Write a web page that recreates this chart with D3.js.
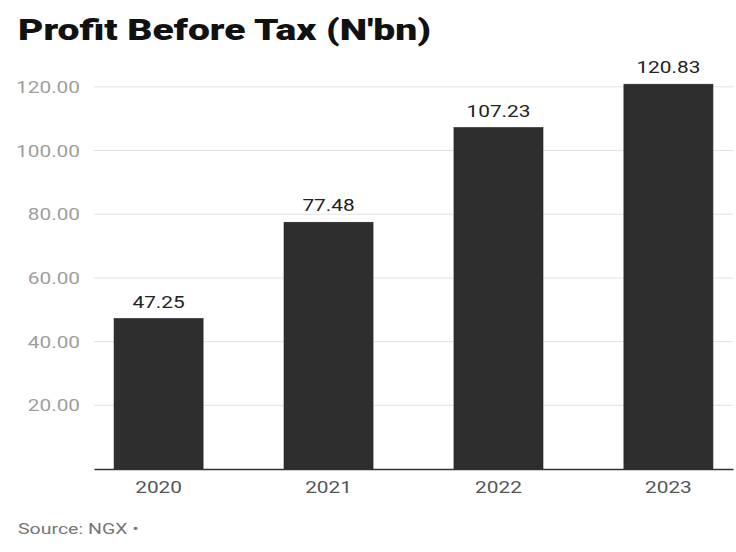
<!DOCTYPE html>
<html>
<head>
<meta charset="utf-8">
<script src="https://cdn.jsdelivr.net/npm/d3@7"></script>
<style>
  body { margin: 0; background: #fff; }
  text { font-family: Roboto, "Liberation Sans", sans-serif; }
</style>
</head>
<body>
<div id="vis"></div>
<script>
var width = 736;
var height = 552;

var years = ["2020", "2021", "2022", "2023"];
var profit = [47.25, 77.48, 107.23, 120.83];
var yTicks = [20, 40, 60, 80, 100, 120];

var padding = {top: 55, left: 94, right: 3, bottom: 83};
var stretchX = 1.3; // the source image text is wide

function stretch(sel){
    sel.each(function(){
        var l = this.getComputedTextLength();
        d3.select(this)
            .attr("textLength", l * stretchX)
            .attr("lengthAdjust", "spacingAndGlyphs");
    });
}

var svg = d3.select('#vis').append('svg')
    .attr("width", width)
    .attr("height", height);

svg.append("text")
    .attr("x", 18)
    .attr("y", 40)
    .attr("font-size", 30)
    .attr("font-weight", 900)
    .attr("fill", "#111")
    .text("Profit Before Tax (N'bn)")
    .call(stretch);

var x = d3.scaleBand()
    .domain(years)
    .range([padding.left, width - padding.right])
    .paddingInner(0.476)
    .paddingOuter(0.118);

// about 3.18px per unit
var y = d3.scaleLinear()
    .domain([0, 130])
    .range([height - padding.bottom, padding.top]);

// grid
svg.append("g")
    .selectAll("line")
    .data(yTicks)
    .enter().append("line")
    .attr("x1", padding.left)
    .attr("x2", width - padding.right)
    .attr("y1", function(d){ return y(d); })
    .attr("y2", function(d){ return y(d); })
    .attr("stroke", "#e2e2e2")
    .attr("stroke-width", 1);

var yAxis = svg.append("g")
    .attr("transform", "translate(" + (padding.left - 11) + ",0)")
    .call(d3.axisLeft(y).tickValues(yTicks).tickFormat(d3.format(".2f")).tickSize(0));
yAxis.select(".domain").remove();
yAxis.selectAll("text")
    .attr("font-size", 16)
    .attr("fill", "#9e9e9e")
    .attr("dy", "0.35em")
    .call(stretch);

svg.append("g")
    .selectAll("rect")
    .data(profit)
    .enter().append("rect")
    .attr("x", function(d, i){ return x(years[i]); })
    .attr("width", x.bandwidth())
    .attr("y", function(d){ return y(d); })
    .attr("height", function(d){ return y(0) - y(d); })
    .attr("fill", "#2d2e2d")
    .attr("stroke", "#222")
    .attr("stroke-width", 0.6);

svg.append("g")
    .selectAll("text")
    .data(profit)
    .enter().append("text")
    .attr("x", function(d, i){ return x(years[i]) + x.bandwidth() / 2; })
    .attr("y", function(d){ return y(d) - 11; })
    .attr("text-anchor", "middle")
    .attr("font-size", 16)
    .attr("fill", "#222")
    .text(function(d){ return d.toFixed(2); })
    .call(stretch);

var xAxis = svg.append("g")
    .attr("transform", "translate(0," + y(0) + ")")
    .call(d3.axisBottom(x).tickSize(0).tickPadding(13));
xAxis.select(".domain")
    .attr("stroke", "#333")
    .attr("stroke-width", 1.3);
xAxis.selectAll("text")
    .attr("font-size", 16)
    .attr("fill", "#555")
    .call(stretch);

svg.append("text")
    .attr("x", 18)
    .attr("y", 534)
    .attr("font-size", 15)
    .attr("fill", "#777")
    .text("Source: NGX \u2022")
    .call(stretch);
</script>
</body>
</html>
